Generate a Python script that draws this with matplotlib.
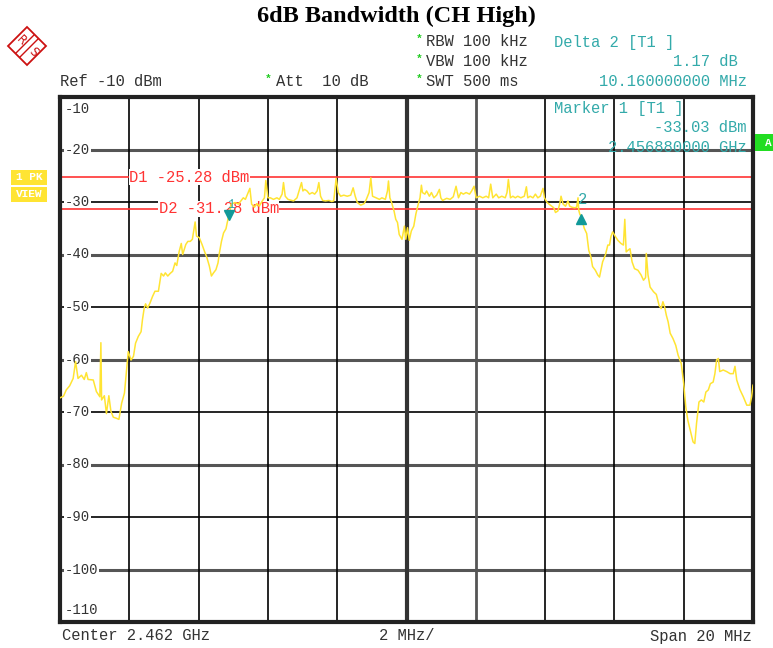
import matplotlib
matplotlib.use("Agg")
import matplotlib.pyplot as plt
from matplotlib.patches import Polygon, Rectangle
from matplotlib.lines import Line2D

# trace: offset from center (MHz) and level (dBm)
trace_mhz = [
    -10.00, -9.90, -9.82, -9.72, -9.62, -9.55, -9.48, -9.38, -9.30, -9.24, -9.19, -9.04,
    -8.95, -8.85, -8.82, -8.80, -8.72, -8.66, -8.59, -8.53, -8.46, -8.37, -8.30, -8.22,
    -8.14, -8.08, -8.03, -7.95, -7.88, -7.82, -7.74, -7.66, -7.62, -7.57, -7.53, -7.47,
    -7.40, -7.33, -7.26, -7.16, -7.08, -7.01, -6.96, -6.89, -6.82, -6.75, -6.68, -6.63,
    -6.56, -6.50, -6.46, -6.40, -6.37, -6.31, -6.24, -6.18, -6.10, -6.06, -5.98, -5.90,
    -5.83, -5.76, -5.69, -5.63, -5.57, -5.50, -5.44, -5.40, -5.34, -5.28, -5.21, -5.15,
    -5.11, -5.06, -4.95, -4.85, -4.71, -4.65, -4.57, -4.52, -4.47, -4.39, -4.32, -4.25,
    -4.17, -4.10, -4.06, -4.00, -3.93, -3.84, -3.74, -3.67, -3.59, -3.55, -3.50, -3.42,
    -3.32, -3.26, -3.16, -3.09, -3.03, -2.99, -2.94, -2.87, -2.80, -2.72, -2.65, -2.58,
    -2.53, -2.48, -2.42, -2.34, -2.24, -2.16, -2.10, -2.03, -1.97, -1.90, -1.81, -1.71,
    -1.61, -1.54, -1.48, -1.42, -1.32, -1.22, -1.16, -1.08, -1.03, -0.98, -0.88, -0.78,
    -0.71, -0.61, -0.55, -0.52, -0.48, -0.43, -0.36, -0.31, -0.26, -0.21, -0.13, -0.06,
    -0.02, 0.03, 0.08, 0.14, 0.21, 0.27, 0.34, 0.39, 0.43, 0.46, 0.53, 0.58,
    0.66, 0.72, 0.79, 0.87, 0.95, 0.99, 1.04, 1.16, 1.26, 1.35, 1.43, 1.50,
    1.57, 1.64, 1.72, 1.82, 1.88, 1.95, 2.01, 2.11, 2.20, 2.30, 2.37, 2.43,
    2.49, 2.59, 2.66, 2.75, 2.85, 2.90, 2.94, 3.00, 3.07, 3.14, 3.21, 3.30,
    3.40, 3.46, 3.50, 3.57, 3.65, 3.72, 3.79, 3.86, 3.94, 3.98, 4.06, 4.15,
    4.25, 4.30, 4.37, 4.43, 4.46, 4.52, 4.59, 4.66, 4.71, 4.78, 4.85, 4.91,
    4.95, 4.97, 5.00, 5.04, 5.13, 5.20, 5.26, 5.32, 5.37, 5.45, 5.52, 5.57,
    5.61, 5.66, 5.74, 5.81, 5.86, 5.90, 5.95, 6.03, 6.10, 6.19, 6.26, 6.30,
    6.34, 6.39, 6.45, 6.51, 6.58, 6.68, 6.77, 6.84, 6.90, 6.92, 6.97, 7.03,
    7.13, 7.21, 7.29, 7.35, 7.40, 7.45, 7.50, 7.55, 7.61, 7.69, 7.77, 7.84,
    7.93, 8.00, 8.06, 8.12, 8.19, 8.27, 8.32, 8.37, 8.44, 8.51, 8.58, 8.64,
    8.71, 8.77, 8.85, 8.90, 8.95, 9.00, 9.04, 9.14, 9.24, 9.34, 9.43, 9.48,
    9.53, 9.62, 9.72, 9.82, 9.91, 9.96, 10.00,
]
trace_dbm = [
    -67.3, -67.0, -65.8, -65.0, -63.6, -60.4, -63.6, -63.0, -63.8, -62.5, -63.8, -63.9,
    -66.1, -67.1, -56.8, -67.7, -66.9, -70.3, -66.9, -69.9, -71.0, -71.2, -71.4, -68.3,
    -66.4, -62.0, -58.5, -60.1, -59.4, -56.9, -55.6, -54.7, -52.4, -50.2, -49.4, -50.2,
    -49.2, -48.0, -47.0, -47.0, -43.6, -44.1, -43.5, -44.1, -43.6, -43.2, -41.6, -42.1,
    -39.4, -37.9, -40.0, -38.7, -38.1, -37.5, -37.5, -37.1, -33.8, -36.5, -36.8, -38.1,
    -39.4, -40.6, -42.2, -44.1, -43.5, -42.9, -41.6, -39.7, -37.5, -35.9, -35.1, -33.2,
    -32.3, -30.4, -30.1, -30.4, -29.2, -29.5, -28.2, -27.4, -30.4, -31.0, -30.3, -30.8,
    -29.9, -29.2, -25.9, -29.2, -29.2, -29.5, -29.2, -29.5, -28.5, -26.3, -28.9, -29.5,
    -29.7, -29.8, -29.2, -27.6, -26.3, -27.9, -27.6, -27.9, -28.5, -28.2, -28.5, -27.9,
    -26.3, -28.9, -29.7, -29.8, -29.7, -29.9, -29.8, -25.5, -28.2, -28.9, -28.7, -28.9,
    -28.7, -27.3, -28.9, -30.1, -30.6, -30.3, -29.5, -28.2, -25.4, -28.9, -29.2, -29.5,
    -29.2, -29.5, -27.9, -26.0, -29.2, -30.1, -31.7, -33.3, -33.9, -36.2, -37.1, -34.6,
    -37.1, -34.9, -37.3, -35.5, -34.6, -32.3, -30.4, -29.2, -26.8, -28.2, -28.5, -27.9,
    -28.9, -28.2, -29.2, -28.7, -27.6, -29.2, -29.7, -29.3, -29.5, -29.0, -27.0, -29.2,
    -28.2, -28.5, -28.2, -28.5, -27.9, -27.0, -29.2, -28.9, -29.2, -28.9, -29.2, -26.6,
    -29.2, -28.5, -29.2, -28.9, -29.2, -28.2, -25.7, -29.2, -28.9, -29.2, -28.9, -29.2,
    -28.9, -27.1, -29.2, -28.9, -29.2, -28.5, -29.2, -28.9, -27.4, -29.2, -30.1, -30.6,
    -31.1, -32.0, -31.7, -30.1, -28.9, -30.4, -30.8, -29.8, -30.8, -31.0, -31.1, -31.0,
    -29.2, -31.5, -32.3, -32.8, -35.0, -36.0, -39.2, -40.4, -42.3, -43.0, -43.9, -44.3,
    -43.0, -41.4, -40.1, -38.2, -38.2, -36.6, -35.7, -36.6, -37.3, -37.9, -38.2, -33.3,
    -39.5, -39.2, -38.9, -41.4, -42.7, -43.0, -43.9, -44.9, -44.4, -39.8, -43.9, -46.2,
    -47.1, -47.6, -49.7, -50.3, -49.0, -50.0, -51.6, -52.8, -55.0, -56.0, -57.3, -59.2,
    -60.8, -64.6, -69.0, -71.6, -73.5, -75.7, -76.0, -72.2, -68.1, -67.7, -68.1, -66.2,
    -65.8, -64.6, -64.3, -62.7, -60.1, -59.8, -62.3, -62.0, -62.3, -62.7, -62.7, -61.3,
    -63.9, -65.7, -67.1, -68.7, -68.7, -67.1, -64.9,
]

# display lines and markers
d1_level = -25.28
d2_level = -31.28
marker1_mhz, marker1_dbm = -5.12, -33.03
marker2_mhz, marker2_dbm = 5.04, -31.86
ytick_vals = [-20, -30, -40, -50, -60, -70, -80, -90, -100]

YEL = "#FFE433"
TEAL = "#33AAAA"
RED = "#FF3333"
GRN = "#22CC22"
MONO = "Liberation Mono"
FS = 11.2

fig = plt.figure(figsize=(7.73, 6.48), dpi=100)
W, H = 773.0, 648.0
def fx(px):
    return px / W
def fy(py):
    return 1 - py / H

ax = fig.add_axes([fx(60), fy(622), 693 / W, 525 / H])
ax.set_xlim(-10, 10)
ax.set_ylim(-110, -10)
ax.set_xticks([])
ax.set_yticks([])
for s in ax.spines.values():
    s.set_linewidth(3)
    s.set_color("#222222")

# grid
for v in range(-20, -100 - 1, -10):
    if v % 20 == 0:
        ax.axhline(v, color="#555555", lw=2.2, zorder=1)
    else:
        ax.axhline(v, color="black", lw=1.2, zorder=1)
for v in range(-8, 10, 2):
    if v == 0:
        ax.axvline(v, color="#333333", lw=3, zorder=1)
    elif v == 2:
        ax.axvline(v, color="#555555", lw=2, zorder=1)
    else:
        ax.axvline(v, color="black", lw=1.2, zorder=1)

# y labels drawn inside the grid
ytr = ax.get_yaxis_transform()
for v in ytick_vals:
    ax.text(0.007, v, str(v), transform=ytr, ha="left", va="center", fontsize=10,
            family=MONO, color="#333333", zorder=2,
            bbox=dict(facecolor="white", edgecolor="none", pad=0.5))
ax.text(0.007, -12.2, "-10", transform=ytr, ha="left", va="center", fontsize=10,
        family=MONO, color="#333333")
ax.text(0.007, -107.8, "-110", transform=ytr, ha="left", va="center", fontsize=10,
        family=MONO, color="#333333")

# display lines
ax.axhline(d1_level, color=RED, lw=1.2, zorder=2)
ax.axhline(d2_level, color=RED, lw=1.2, zorder=2)
ax.text(-8.0, d1_level, "D1 -25.28 dBm", color=RED, fontsize=FS, family=MONO,
        va="center", ha="left", zorder=3,
        bbox=dict(facecolor="white", edgecolor="none", pad=0.3))
ax.text(-7.15, d2_level, "D2 -31.28 dBm", color=RED, fontsize=FS, family=MONO,
        va="center", ha="left", zorder=3,
        bbox=dict(facecolor="white", edgecolor="none", pad=0.3))

# trace
ax.plot(trace_mhz, trace_dbm, color=YEL, lw=1.1, zorder=4)

# markers
ax.plot([marker1_mhz], [marker1_dbm + 0.6], marker="v", color="#119999", ms=7, zorder=5)
ax.text(marker1_mhz + 0.05, marker1_dbm + 1.4, "1", color=TEAL, fontsize=9,
        family=MONO, ha="center", va="bottom", zorder=5)
ax.plot([marker2_mhz], [marker2_dbm - 1.4], marker="^", color="#119999", ms=7, zorder=5)
ax.text(marker2_mhz + 0.05, marker2_dbm + 0.9, "2", color=TEAL, fontsize=FS,
        family=MONO, ha="center", va="bottom", zorder=5)

# marker info inside the screen
ax.text(fx(554), fy(109), "Marker 1 [T1 ]", transform=fig.transFigure, color=TEAL,
        fontsize=FS, family=MONO, va="center", ha="left", zorder=6)
ax.text(fx(747), fy(128), "-33.03 dBm", transform=fig.transFigure, color=TEAL,
        fontsize=FS, family=MONO, va="center", ha="right", zorder=6)
ax.text(fx(747), fy(147), "2.456880000 GHz", transform=fig.transFigure, color=TEAL,
        fontsize=FS, family=MONO, va="center", ha="right", zorder=6)

# title
fig.text(fx(396), fy(16), "6dB Bandwidth (CH High)", ha="center", va="center",
         fontsize=17.5, fontweight="bold", family="Liberation Serif")

# header
def star(px, py):
    fig.text(fx(px), fy(py - 3), "*", color=GRN, fontsize=8, family=MONO,
             ha="left", va="center", fontweight="bold")

fig.text(fx(60), fy(82), "Ref -10 dBm", fontsize=FS, family=MONO, va="center",
         color="#333333")
star(265, 82)
fig.text(fx(276), fy(82), "Att  10 dB", fontsize=FS, family=MONO, va="center",
         color="#333333")
for py, txt in [(42, "RBW 100 kHz"), (62, "VBW 100 kHz"), (82, "SWT 500 ms")]:
    star(416, py)
    fig.text(fx(426), fy(py), txt, fontsize=FS, family=MONO, va="center",
             color="#333333")
fig.text(fx(554), fy(42), "Delta 2 [T1 ]", fontsize=FS, family=MONO, va="center",
         color=TEAL)
fig.text(fx(738), fy(62), "1.17 dB", fontsize=FS, family=MONO, va="center",
         ha="right", color=TEAL)
fig.text(fx(747), fy(82), "10.160000000 MHz", fontsize=FS, family=MONO,
         va="center", ha="right", color=TEAL)

# footer
fig.text(fx(62), fy(636), "Center 2.462 GHz", fontsize=FS, family=MONO,
         va="center", color="#333333")
fig.text(fx(379), fy(636), "2 MHz/", fontsize=FS, family=MONO, va="center",
         color="#333333")
fig.text(fx(752), fy(636), "Span 20 MHz", fontsize=FS, family=MONO, va="center",
         ha="right", color="#333333")

# side labels
fig.patches.append(Rectangle((fx(11), fy(185)), 36 / W, 15 / H, transform=fig.transFigure,
                             facecolor=YEL, edgecolor="none"))
fig.patches.append(Rectangle((fx(11), fy(202)), 36 / W, 15 / H, transform=fig.transFigure,
                             facecolor=YEL, edgecolor="none"))
fig.text(fx(29), fy(177.5), "1 PK", fontsize=8, family=MONO, fontweight="bold",
         color="white", ha="center", va="center")
fig.text(fx(29), fy(194.5), "VIEW", fontsize=8, family=MONO, fontweight="bold",
         color="white", ha="center", va="center")
fig.patches.append(Rectangle((fx(755), fy(151)), 18 / W, 17 / H, transform=fig.transFigure,
                             facecolor="#22DD22", edgecolor="none"))
fig.text(fx(768), fy(142.5), "A", fontsize=8, family=MONO, fontweight="bold",
         color="white", ha="center", va="center")

# R&S logo
cx, cy, r = 27, 46, 19
diamond = [(fx(cx - r), fy(cy)), (fx(cx), fy(cy - r)), (fx(cx + r), fy(cy)),
           (fx(cx), fy(cy + r))]
fig.patches.append(Polygon(diamond, closed=True, transform=fig.transFigure,
                           facecolor="none", edgecolor="#CC1111", lw=1.3))
for off in (-2, 2):
    fig.lines.append(Line2D([fx(cx - 9 + off), fx(cx + 9 + off)],
                            [fy(cy + 9 + off), fy(cy - 9 + off)],
                            transform=fig.transFigure, color="#CC1111", lw=1.0))
fig.text(fx(cx - 6), fy(cy - 6), "R", fontsize=8.5, color="#CC1111", rotation=-45,
         ha="center", va="center", family="DejaVu Sans")
fig.text(fx(cx + 6), fy(cy + 6), "S", fontsize=8.5, color="#CC1111", rotation=-45,
         ha="center", va="center", family="DejaVu Sans")

fig.savefig("out.png", dpi=100)
